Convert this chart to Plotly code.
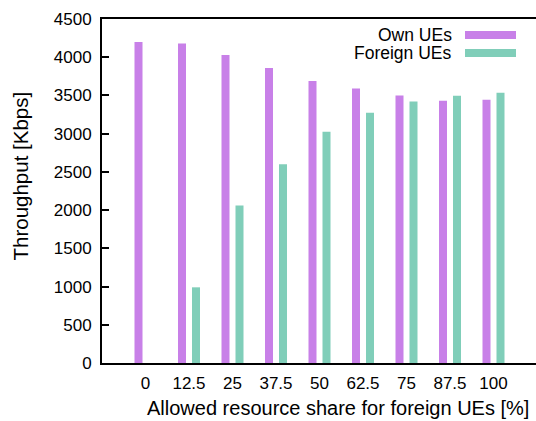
import plotly.graph_objects as go

# Allowed resource share for foreign UEs [%]
categories = ["0", "12.5", "25", "37.5", "50", "62.5", "75", "87.5", "100"]
# Throughput [Kbps]
own_ues = [4200, 4180, 4030, 3860, 3690, 3590, 3500, 3430, 3445]
foreign_ues = [0, 990, 2060, 2600, 3025, 3275, 3420, 3495, 3535]
series_names = ["Own UEs", "Foreign UEs"]
series_colors = ["#C880E8", "#80CEB9"]

FONT = "Liberation Sans, Arial, Helvetica, sans-serif"
W, H = 536, 421
ML, MR, MT, MB = 102, 0, 19, 58
plot_w = W - ML - MR
plot_h = H - MT - MB
px_per_cat = 43.5

pos = list(range(len(categories)))
bar_w = 8 / px_per_cat
half_gap = 7 / px_per_cat

fig = go.Figure()
for name, vals, col, sign in zip(series_names, [own_ues, foreign_ues], series_colors, [-1, 1]):
    fig.add_trace(go.Bar(
        x=pos, y=vals, name=name,
        width=bar_w, offset=sign * half_gap - bar_w / 2,
        marker=dict(color=col, line=dict(width=0)),
        showlegend=False,
    ))

x_end = -1 + plot_w / px_per_cat

def px_to_paper_x(px):
    return (px - ML) / plot_w

def px_to_paper_y(py):
    return (H - MB - py) / plot_h

shapes = []
annotations = []
# key box in the upper right corner
for i, (name, col) in enumerate(zip(series_names, series_colors)):
    cy = 35 + 18 * i
    shapes.append(dict(
        type="rect", xref="paper", yref="paper",
        x0=px_to_paper_x(465), x1=px_to_paper_x(516),
        y0=px_to_paper_y(cy + 4), y1=px_to_paper_y(cy - 4),
        fillcolor=col, line=dict(width=0),
    ))
    annotations.append(dict(
        text=name, xref="paper", yref="paper",
        x=px_to_paper_x(454), y=px_to_paper_y(cy),
        xanchor="right", yanchor="middle", showarrow=False,
        font=dict(family=FONT, size=17.5, color="black"),
    ))

# axis titles
annotations.append(dict(
    text="Allowed resource share for foreign UEs [%]", xref="paper", yref="paper",
    x=px_to_paper_x(338), y=px_to_paper_y(408),
    xanchor="center", yanchor="middle", showarrow=False,
    font=dict(family=FONT, size=20, color="black"),
))
annotations.append(dict(
    text="Throughput [Kbps]", xref="paper", yref="paper",
    x=px_to_paper_x(20), y=px_to_paper_y(176.5), textangle=-90,
    xanchor="center", yanchor="middle", showarrow=False,
    font=dict(family=FONT, size=20.5, color="black"),
))

fig.update_layout(
    width=W, height=H,
    margin=dict(l=ML, r=MR, t=MT, b=MB, pad=0),
    paper_bgcolor="white", plot_bgcolor="white",
    barmode="overlay",
    shapes=shapes, annotations=annotations,
    font=dict(family=FONT, size=17, color="black"),
    xaxis=dict(
        range=[-1, x_end], tickvals=pos, ticktext=categories,
        showgrid=False, zeroline=False,
        showline=True, linecolor="black", linewidth=2, mirror=True,
        ticks="", ticklabelstandoff=4,
        tickfont=dict(family=FONT, size=17),
    ),
    yaxis=dict(
        range=[0, 4500], tickvals=[0, 500, 1000, 1500, 2000, 2500, 3000, 3500, 4000, 4500],
        showgrid=False, zeroline=False,
        showline=True, linecolor="black", linewidth=2,
        ticks="inside", ticklen=7, tickwidth=1.5, tickcolor="black",
        ticklabelstandoff=5,
        tickfont=dict(family=FONT, size=17),
    ),
)

fig.write_html("out.html")
